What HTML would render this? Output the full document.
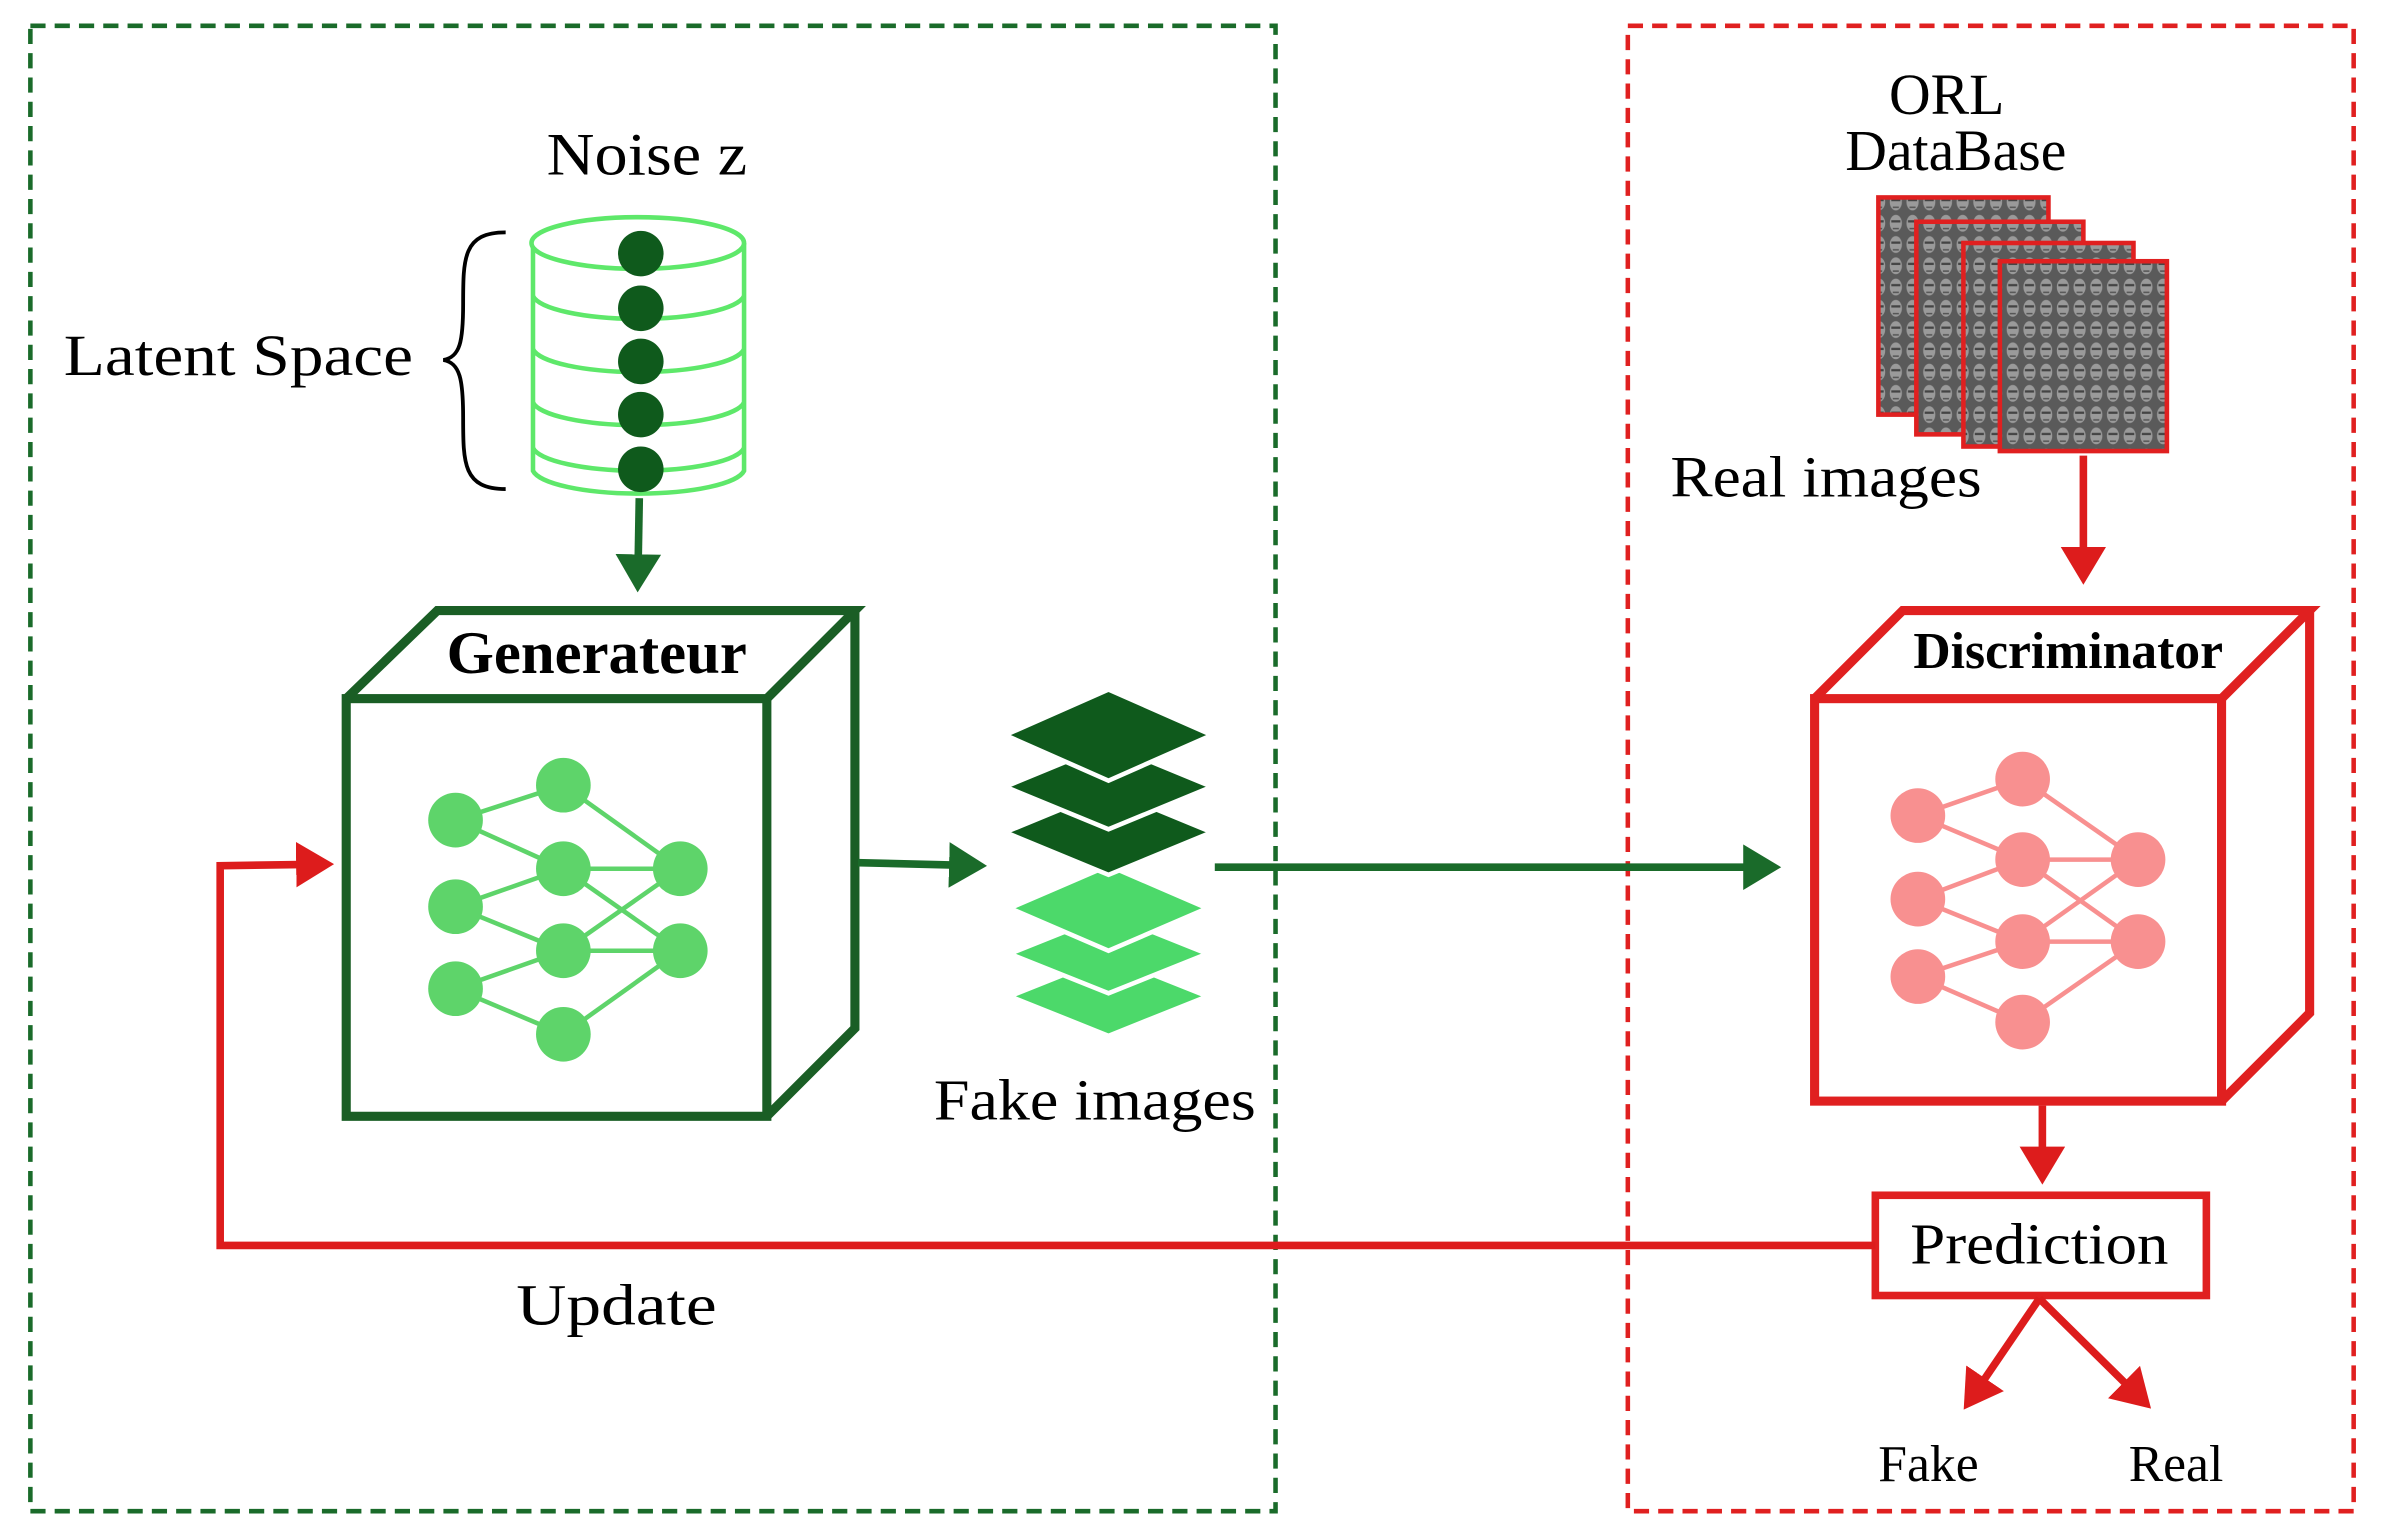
<!DOCTYPE html>
<html><head><meta charset="utf-8"><style>html,body{margin:0;padding:0;background:#fff}svg{display:block}</style></head>
<body>
<svg width="2381" height="1537" viewBox="0 0 1568 1012" preserveAspectRatio="none" xmlns="http://www.w3.org/2000/svg" font-family="'Liberation Serif',serif">
<defs>
<pattern id="faces" width="11" height="14" patternUnits="userSpaceOnUse">
<rect width="11" height="14" fill="#5a5a5a"/>
<ellipse cx="5.5" cy="7" rx="4" ry="5.5" fill="#9a9a9a"/>
<rect x="2.5" y="5" width="6" height="1.5" fill="#444"/>
<rect x="3.5" y="10" width="4" height="1" fill="#555"/>
</pattern>
<marker id="ag" markerWidth="6" markerHeight="6" refX="4" refY="3" orient="auto" markerUnits="strokeWidth"><path d="M0,0 L5,3 L0,6 z" fill="#1a6b2a"/></marker>
<marker id="ar" markerWidth="6" markerHeight="6" refX="4" refY="3" orient="auto" markerUnits="strokeWidth"><path d="M0,0 L5,3 L0,6 z" fill="#dd1c1c"/></marker>
</defs>
<rect x="20" y="17" width="820" height="978" fill="none" stroke="#1a6b2a" stroke-width="3" stroke-dasharray="10,6"/>
<rect x="1072" y="17" width="478" height="978" fill="none" stroke="#e02020" stroke-width="3" stroke-dasharray="10,6"/>

<text x="360" y="115" font-size="40" textLength="132" lengthAdjust="spacingAndGlyphs">Noise z</text>
<text x="42" y="247" font-size="38" textLength="230" lengthAdjust="spacingAndGlyphs">Latent Space</text>
<path d="M333,153 C305,153 305,170 305,200 C305,225 303,235 292,237 C303,239 305,250 305,275 C305,305 305,322 333,322" fill="none" stroke="#000" stroke-width="2.5"/>
<g fill="none" stroke="#5ee86a" stroke-width="3">
<path d="M351,160 L351,310 A70,17 0 0 0 490,310 L490,160"/>
<ellipse cx="420" cy="160" rx="70" ry="17" fill="#fff"/>
<path d="M351,195 A70,17 0 0 0 490,195 M351,230 A70,17 0 0 0 490,230 M351,265 A70,17 0 0 0 490,265 M351,295 A70,17 0 0 0 490,295"/>
</g>
<g fill="#0f5a1c"><circle cx="422" cy="167" r="15"/><circle cx="422" cy="203" r="15"/><circle cx="422" cy="238" r="15"/><circle cx="422" cy="273" r="15"/><circle cx="422" cy="309" r="15"/></g>
<line x1="421" y1="328" x2="420" y2="385" stroke="#1a6b2a" stroke-width="5" marker-end="url(#ag)"/>

<g fill="none" stroke="#1a5e25" stroke-width="6" stroke-linejoin="miter">
<rect x="228" y="460" width="277" height="275" fill="#fff"/>
<path d="M228,460 L288,402 L563,402 L505,460 M563,402 L563,677 L505,735"/>
</g>
<text x="393" y="443" font-size="40" font-weight="bold" text-anchor="middle">Generateur</text>
<g stroke="#5ed46a" stroke-width="3">
<path d="M300,540 L371,517 M300,540 L371,572 M300,597 L371,572 M300,597 L371,626 M300,651 L371,626 M300,651 L371,681 M371,517 L448,572 M371,572 L448,572 M371,572 L448,626 M371,626 L448,572 M371,626 L448,626 M371,681 L448,626"/>
</g>
<g fill="#5ed46a"><circle cx="300" cy="540" r="18"/><circle cx="300" cy="597" r="18"/><circle cx="300" cy="651" r="18"/><circle cx="371" cy="517" r="18"/><circle cx="371" cy="572" r="18"/><circle cx="371" cy="626" r="18"/><circle cx="371" cy="681" r="18"/><circle cx="448" cy="572" r="18"/><circle cx="448" cy="626" r="18"/></g>
<line x1="565" y1="568" x2="645" y2="570" stroke="#1a6b2a" stroke-width="5" marker-end="url(#ag)"/>

<g stroke="#fff" stroke-width="3">
<path d="M730,630 L795,656 L730,682 L665,656 z" fill="#4cd96a"/>
<path d="M730,602 L795,628 L730,654 L665,628 z" fill="#4cd96a"/>
<path d="M730,570 L795,598 L730,626 L665,598 z" fill="#4cd96a"/>
<path d="M730,520 L798,548 L730,576 L662,548 z" fill="#0f5a1c"/>
<path d="M730,490 L798,518 L730,546 L662,518 z" fill="#0f5a1c"/>
<path d="M730,454 L798,484 L730,514 L662,484 z" fill="#0f5a1c"/>
</g>
<text x="615" y="737" font-size="38" textLength="212" lengthAdjust="spacingAndGlyphs">Fake images</text>
<line x1="800" y1="571" x2="1168" y2="571" stroke="#1a6b2a" stroke-width="5" marker-end="url(#ag)"/>

<text x="1282" y="75" font-size="38" text-anchor="middle">ORL</text>
<text x="1288" y="112" font-size="38" text-anchor="middle">DataBase</text>
<g stroke="#e02020" stroke-width="3" fill="url(#faces)">
<rect x="1237" y="130" width="112" height="143"/>
<rect x="1262" y="146" width="110" height="140"/>
<rect x="1293" y="160" width="112" height="134"/>
<rect x="1317" y="172" width="110" height="125"/>
</g>
<text x="1100" y="327" font-size="38" textLength="205" lengthAdjust="spacingAndGlyphs">Real images</text>
<line x1="1372" y1="300" x2="1372" y2="380" stroke="#dd1c1c" stroke-width="5" marker-end="url(#ar)"/>

<g fill="none" stroke="#e02020" stroke-width="6">
<rect x="1195" y="460" width="268" height="265" fill="#fff"/>
<path d="M1195,460 L1253,402 L1521,402 L1463,460 M1521,402 L1521,667 L1463,725"/>
</g>
<text x="1362" y="440" font-size="34" font-weight="bold" text-anchor="middle">Discriminator</text>
<g stroke="#f89090" stroke-width="3">
<path d="M1263,537 L1332,513 M1263,537 L1332,566 M1263,592 L1332,566 M1263,592 L1332,620 M1263,643 L1332,620 M1263,643 L1332,673 M1332,513 L1408,566 M1332,566 L1408,566 M1332,566 L1408,620 M1332,620 L1408,566 M1332,620 L1408,620 M1332,673 L1408,620"/>
</g>
<g fill="#f89090"><circle cx="1263" cy="537" r="18"/><circle cx="1263" cy="592" r="18"/><circle cx="1263" cy="643" r="18"/><circle cx="1332" cy="513" r="18"/><circle cx="1332" cy="566" r="18"/><circle cx="1332" cy="620" r="18"/><circle cx="1332" cy="673" r="18"/><circle cx="1408" cy="566" r="18"/><circle cx="1408" cy="620" r="18"/></g>
<line x1="1345" y1="728" x2="1345" y2="775" stroke="#dd1c1c" stroke-width="5" marker-end="url(#ar)"/>

<rect x="1235" y="787" width="218" height="66" fill="#fff" stroke="#e02020" stroke-width="5"/>
<text x="1258" y="832" font-size="38" textLength="170" lengthAdjust="spacingAndGlyphs">Prediction</text>
<polyline points="1235,820 145,820 145,570 215,569" fill="none" stroke="#dd1c1c" stroke-width="5" marker-end="url(#ar)"/>
<text x="340" y="872" font-size="38" textLength="132" lengthAdjust="spacingAndGlyphs">Update</text>
<line x1="1343" y1="855" x2="1296" y2="924" stroke="#dd1c1c" stroke-width="5" marker-end="url(#ar)"/>
<line x1="1343" y1="855" x2="1413" y2="924" stroke="#dd1c1c" stroke-width="5" marker-end="url(#ar)"/>
<text x="1270" y="975" font-size="34" text-anchor="middle">Fake</text>
<text x="1433" y="975" font-size="34" text-anchor="middle">Real</text>
</svg>
</body></html>
